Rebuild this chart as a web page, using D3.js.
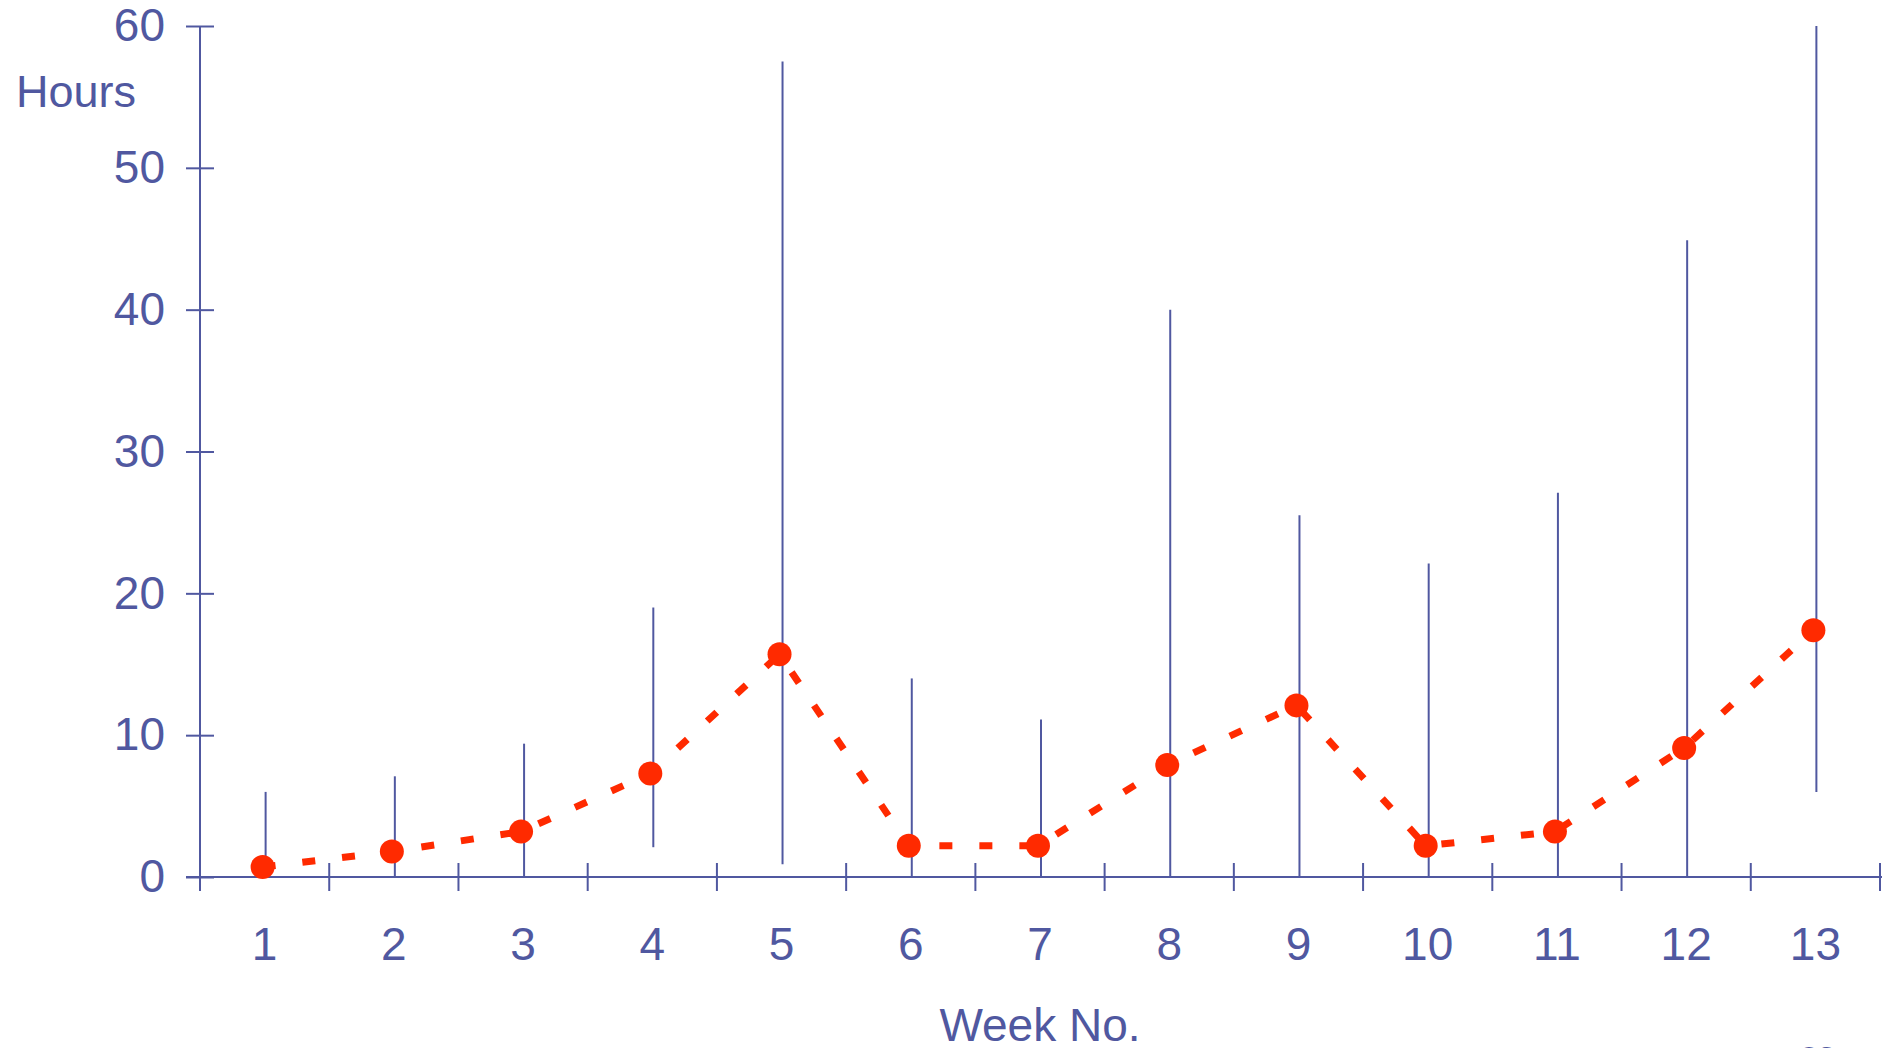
<!DOCTYPE html>
<html>
<head>
<meta charset="utf-8">
<script src="https://cdn.jsdelivr.net/npm/d3@7"></script>
<style>
  body { margin: 0; background: #fff; overflow: hidden; }
  svg { display: block; font-family: "Liberation Sans", Arial, sans-serif; }
</style>
</head>
<body>
<svg id="chart"></svg>
<script>
// Data
let weeks = [1, 2, 3, 4, 5, 6, 7, 8, 9, 10, 11, 12, 13];
let meanHours = [0.7, 1.8, 3.2, 7.3, 15.7, 2.2, 2.2, 7.9, 12.1, 2.2, 3.2, 9.1, 17.4];
let maxHours = [6.0, 7.1, 9.4, 19.0, 57.5, 14.0, 11.1, 40.0, 25.5, 22.1, 27.1, 44.9, 60.0];
let minHours = [0, 0, 0, 2.1, 0.9, 0, 0, 0, 0, 0, 0, 0, 6.0];
let yTicks = [0, 10, 20, 30, 40, 50, 60];

// Layout
let width = 1888, height = 1048;
let x0 = 200, x1 = 1880;
let yTop = 26, yBottom = 877;
let blue = "#5058a0", red = "#ff2a00";

let svg = d3.select("#chart").attr("width", width).attr("height", height);

let x = d3.scaleBand().domain(weeks).range([x0, x1]);
let y = d3.scaleLinear().domain([0, 60]).range([yBottom, yTop]);

// Y axis
let yAxis = svg.append("g")
    .attr("transform", "translate(" + x0 + ",0)")
    .call(d3.axisLeft(y).tickValues(yTicks).tickSize(14).tickPadding(21));
yAxis.select(".domain").remove();
yAxis.append("line")
    .attr("x1", 0).attr("x2", 0)
    .attr("y1", yTop).attr("y2", yBottom + 14)
    .attr("stroke", blue).attr("stroke-width", 2);
yAxis.selectAll(".tick line")
    .attr("x1", -14).attr("x2", 14)
    .attr("stroke", blue).attr("stroke-width", 2);
yAxis.selectAll(".tick text")
    .attr("fill", blue)
    .style("font-size", "46px");

// X axis: labels in band centres, ticks on band edges
let xAxis = svg.append("g")
    .attr("transform", "translate(0," + yBottom + ")")
    .call(d3.axisBottom(x).tickSize(0).tickPadding(50));
xAxis.select(".domain").remove();
xAxis.append("line")
    .attr("x1", x0 - 14).attr("x2", x1 + 2)
    .attr("stroke", blue).attr("stroke-width", 2);
xAxis.selectAll(".tick text")
    .attr("fill", blue)
    .style("font-size", "46px");
let edges = weeks.map(d => x(d)).concat([x1]);
xAxis.selectAll(".edge")
    .data(edges.slice(1))
    .enter().append("line")
    .attr("class", "edge")
    .attr("x1", d => d).attr("x2", d => d)
    .attr("y1", -14).attr("y2", 14)
    .attr("stroke", blue).attr("stroke-width", 2);

// Axis titles
svg.append("text")
    .attr("x", 16).attr("y", 107)
    .attr("fill", blue)
    .style("font-size", "45px")
    .text("Hours");
svg.append("text")
    .attr("x", 1040).attr("y", 1041)
    .attr("text-anchor", "middle")
    .attr("fill", blue)
    .style("font-size", "46px")
    .text("Week No.");
svg.append("text")
    .attr("x", 1800).attr("y", 1069)
    .attr("fill", blue)
    .style("font-size", "32px")
    .text("23");

// Range lines
let cx = d => x(d) + x.bandwidth() / 2;
svg.append("g").selectAll("line")
    .data(weeks)
    .enter().append("line")
    .attr("x1", d => cx(d) + 1).attr("x2", d => cx(d) + 1)
    .attr("y1", (d, i) => y(maxHours[i]))
    .attr("y2", (d, i) => y(minHours[i]))
    .attr("stroke", blue).attr("stroke-width", 2);

// Mean line
let line = d3.line()
    .x((d, i) => cx(weeks[i]) - 2)
    .y(d => y(d));
svg.append("path")
    .datum(meanHours)
    .attr("d", line)
    .attr("fill", "none")
    .attr("stroke", red)
    .attr("stroke-width", 7)
    .attr("stroke-dasharray", "13,27");

svg.append("g").selectAll("circle")
    .data(meanHours)
    .enter().append("circle")
    .attr("cx", (d, i) => cx(weeks[i]) - 2)
    .attr("cy", d => y(d))
    .attr("r", 12)
    .attr("fill", red);
</script>
</body>
</html>
